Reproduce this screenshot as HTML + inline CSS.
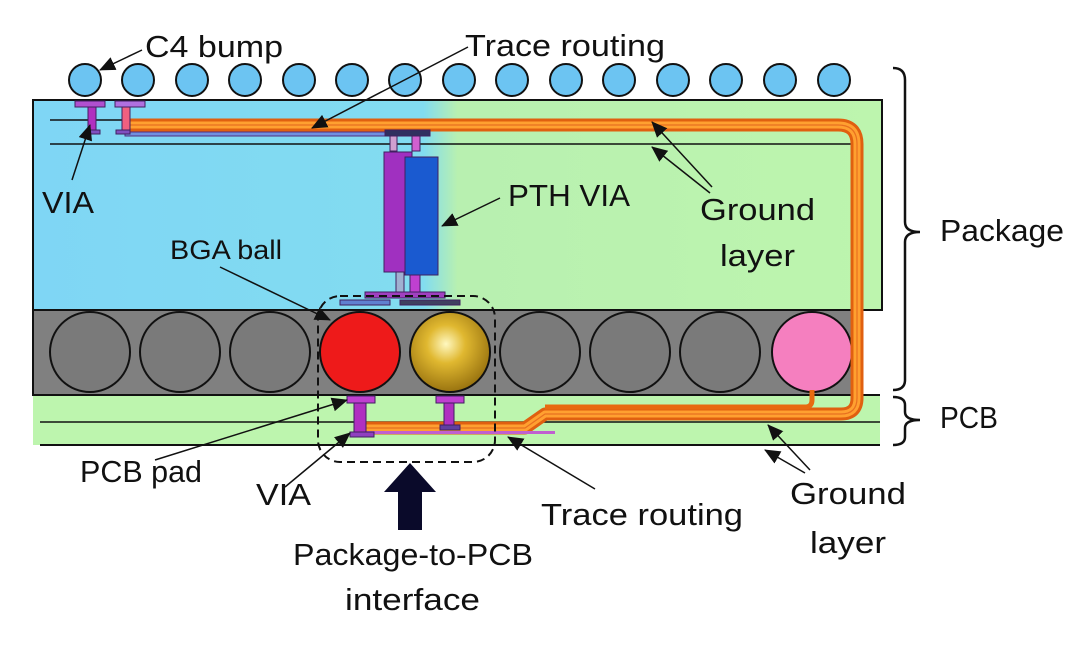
<!DOCTYPE html>
<html><head><meta charset="utf-8"><style>
html,body{margin:0;padding:0;background:#fff;}
svg{display:block;}
text{font-family:"Liberation Sans",sans-serif;fill:#111;}
</style></head><body>
<svg width="1080" height="646" viewBox="0 0 1080 646" xmlns="http://www.w3.org/2000/svg">
<defs>
<marker id="ah" markerWidth="16" markerHeight="14" refX="15" refY="7" orient="auto" markerUnits="userSpaceOnUse"><path d="M0,0 L16,7 L0,14 z" fill="#111"/></marker>
<linearGradient id="pk" x1="0" x2="1" y1="0" y2="0"><stop offset="0" stop-color="#7fd6f5"/><stop offset="0.46" stop-color="#82dcf0"/><stop offset="0.5" stop-color="#b8f0b0"/><stop offset="1" stop-color="#bdf5ae"/></linearGradient>
<radialGradient id="gold" cx="0.45" cy="0.4" r="0.6"><stop offset="0" stop-color="#fff8c0"/><stop offset="0.4" stop-color="#e0b830"/><stop offset="1" stop-color="#9a7410"/></radialGradient>
</defs>
<rect x="33" y="100" width="849" height="210" fill="url(#pk)"/>
<rect x="33" y="100" width="849" height="210" fill="none" stroke="#111" stroke-width="2"/>
<line x1="50" y1="120" x2="440" y2="120" stroke="#111" stroke-width="1.5"/>
<line x1="50" y1="144" x2="860" y2="144" stroke="#111" stroke-width="1.5"/>
<g fill="#6cc4f2" stroke="#111" stroke-width="2">
<circle cx="85" cy="80" r="16"/><circle cx="138" cy="80" r="16"/><circle cx="192" cy="80" r="16"/><circle cx="245" cy="80" r="16"/><circle cx="299" cy="80" r="16"/><circle cx="352" cy="80" r="16"/><circle cx="405" cy="80" r="16"/><circle cx="459" cy="80" r="16"/><circle cx="512" cy="80" r="16"/><circle cx="566" cy="80" r="16"/><circle cx="619" cy="80" r="16"/><circle cx="673" cy="80" r="16"/><circle cx="726" cy="80" r="16"/><circle cx="780" cy="80" r="16"/><circle cx="834" cy="80" r="16"/>
</g>
<rect x="33" y="395" width="847" height="50" fill="#bdf5ae"/>
<line x1="40" y1="395" x2="880" y2="395" stroke="#111" stroke-width="2"/>
<line x1="40" y1="422" x2="880" y2="422" stroke="#111" stroke-width="1.5"/>
<line x1="40" y1="445" x2="880" y2="445" stroke="#111" stroke-width="2"/>
<rect x="33" y="310" width="827" height="85" fill="#808080" stroke="#111" stroke-width="2"/>
<g stroke="#111" stroke-width="2">
<circle cx="90" cy="352" r="40" fill="#7a7a7a"/><circle cx="180" cy="352" r="40" fill="#7a7a7a"/><circle cx="270" cy="352" r="40" fill="#7a7a7a"/>
<circle cx="360" cy="352" r="40" fill="#ee1a1a"/><circle cx="450" cy="352" r="40" fill="url(#gold)"/>
<circle cx="540" cy="352" r="40" fill="#7a7a7a"/><circle cx="630" cy="352" r="40" fill="#7a7a7a"/><circle cx="720" cy="352" r="40" fill="#7a7a7a"/>
<circle cx="812" cy="352" r="40" fill="#f57fbf"/>
</g>
<g fill="none" stroke-linejoin="round">
<path d="M125,125 L838,125 Q857,125 857,144 L857,398 Q857,414 841,414 L545,414 L525,428 L360,428" stroke="#e06010" stroke-width="13"/>
<path d="M125,125 L838,125 Q857,125 857,144 L857,398 Q857,414 841,414 L545,414 L525,428 L360,428" stroke="#ffa030" stroke-width="7"/>
<path d="M125,125 L838,125 Q857,125 857,144 L857,398 Q857,414 841,414 L545,414 L525,428 L360,428" stroke="#e87020" stroke-width="1.2"/>
<path d="M812,390 L812,400 Q812,407 805,407 L545,407" stroke="#e86a10" stroke-width="5"/>
</g>
<rect x="125" y="132" width="290" height="4" fill="#7090e0" stroke="#503080" stroke-width="1"/>
<rect x="355" y="431" width="200" height="3" fill="#c060d0"/>
<g stroke="#402060" stroke-width="1">
<rect x="75" y="101" width="30" height="6" fill="#b050d0"/><rect x="88" y="107" width="8" height="25" fill="#b030c0"/><rect x="86" y="130" width="14" height="4" fill="#8050c0"/>
<rect x="115" y="101" width="30" height="6" fill="#b070e0"/><rect x="122" y="107" width="8" height="25" fill="#f06080"/><rect x="116" y="130" width="14" height="4" fill="#8050c0"/>
<rect x="385" y="130" width="45" height="6" fill="#303060"/>
<rect x="390" y="136" width="7" height="15" fill="#d0a0d0"/><rect x="412" y="136" width="8" height="15" fill="#d060d0"/>
<rect x="384" y="152" width="28" height="120" fill="#a030c0"/><rect x="405" y="157" width="33" height="118" fill="#1a5ad0"/>
<rect x="396" y="272" width="8" height="20" fill="#a0b0d0"/><rect x="410" y="275" width="10" height="18" fill="#c040d0"/>
<rect x="365" y="292" width="80" height="6" fill="#a040c0"/>
<rect x="340" y="300" width="50" height="5" fill="#6080d0"/><rect x="400" y="300" width="60" height="5" fill="#404060"/>
<rect x="347" y="396" width="28" height="7" fill="#c040d0"/><rect x="354" y="403" width="12" height="32" fill="#b030c0"/><rect x="350" y="432" width="24" height="5" fill="#9040c0"/>
<rect x="436" y="396" width="28" height="7" fill="#c040d0"/><rect x="444" y="403" width="10" height="25" fill="#b030c0"/><rect x="440" y="425" width="20" height="5" fill="#6040a0"/>
</g>
<rect x="318" y="296" width="177" height="166" rx="22" fill="none" stroke="#111" stroke-width="2" stroke-dasharray="8,5"/>
<path d="M410,463 L436,492 L422,492 L422,530 L398,530 L398,492 L384,492 z" fill="#0a0a2a"/>
<path d="M893,68 Q905,68 905,80 L905,222 Q905,232 920,232 Q905,232 905,242 L905,380 Q905,390 893,390" fill="none" stroke="#111" stroke-width="2.5"/>
<path d="M893,397 Q905,397 905,405 L905,412 Q905,420 920,420 Q905,420 905,428 L905,437 Q905,445 893,445" fill="none" stroke="#111" stroke-width="2.5"/>
<g stroke="#111" stroke-width="1.5" fill="none" marker-end="url(#ah)">
<line x1="142" y1="50" x2="100" y2="70"/>
<line x1="468" y1="47" x2="312" y2="128"/>
<line x1="72" y1="180" x2="90" y2="125"/>
<line x1="500" y1="198" x2="442" y2="226"/>
<line x1="712" y1="187" x2="652" y2="122"/>
<line x1="710" y1="193" x2="652" y2="147"/>
<line x1="220" y1="267" x2="330" y2="320"/>
<line x1="155" y1="460" x2="347" y2="400"/>
<line x1="285" y1="487" x2="350" y2="433"/>
<line x1="595" y1="489" x2="508" y2="437"/>
<line x1="810" y1="470" x2="768" y2="425"/>
<line x1="805" y1="473" x2="765" y2="450"/>
</g>
<g font-size="31">
<text x="145" y="57" textLength="138" lengthAdjust="spacingAndGlyphs">C4 bump</text>
<text x="465" y="56" textLength="200" lengthAdjust="spacingAndGlyphs">Trace routing</text>
<text x="42" y="213" textLength="52" lengthAdjust="spacingAndGlyphs">VIA</text>
<text x="508" y="206" textLength="122" lengthAdjust="spacingAndGlyphs">PTH VIA</text>
<text x="700" y="220" textLength="115" lengthAdjust="spacingAndGlyphs">Ground</text>
<text x="720" y="266" textLength="75" lengthAdjust="spacingAndGlyphs">layer</text>
<text x="940" y="241" textLength="124" lengthAdjust="spacingAndGlyphs">Package</text>
<text x="940" y="428" textLength="58" lengthAdjust="spacingAndGlyphs">PCB</text>
<text x="80" y="482" textLength="122" lengthAdjust="spacingAndGlyphs">PCB pad</text>
<text x="256" y="505" textLength="55" lengthAdjust="spacingAndGlyphs">VIA</text>
<text x="541" y="525" textLength="202" lengthAdjust="spacingAndGlyphs">Trace routing</text>
<text x="790" y="504" textLength="116" lengthAdjust="spacingAndGlyphs">Ground</text>
<text x="810" y="553" textLength="76" lengthAdjust="spacingAndGlyphs">layer</text>
<text x="293" y="565" textLength="240" lengthAdjust="spacingAndGlyphs">Package-to-PCB</text>
<text x="345" y="610" textLength="135" lengthAdjust="spacingAndGlyphs">interface</text>
</g>
<text x="170" y="259" font-size="27" textLength="112" lengthAdjust="spacingAndGlyphs">BGA ball</text>
</svg>
</body></html>
